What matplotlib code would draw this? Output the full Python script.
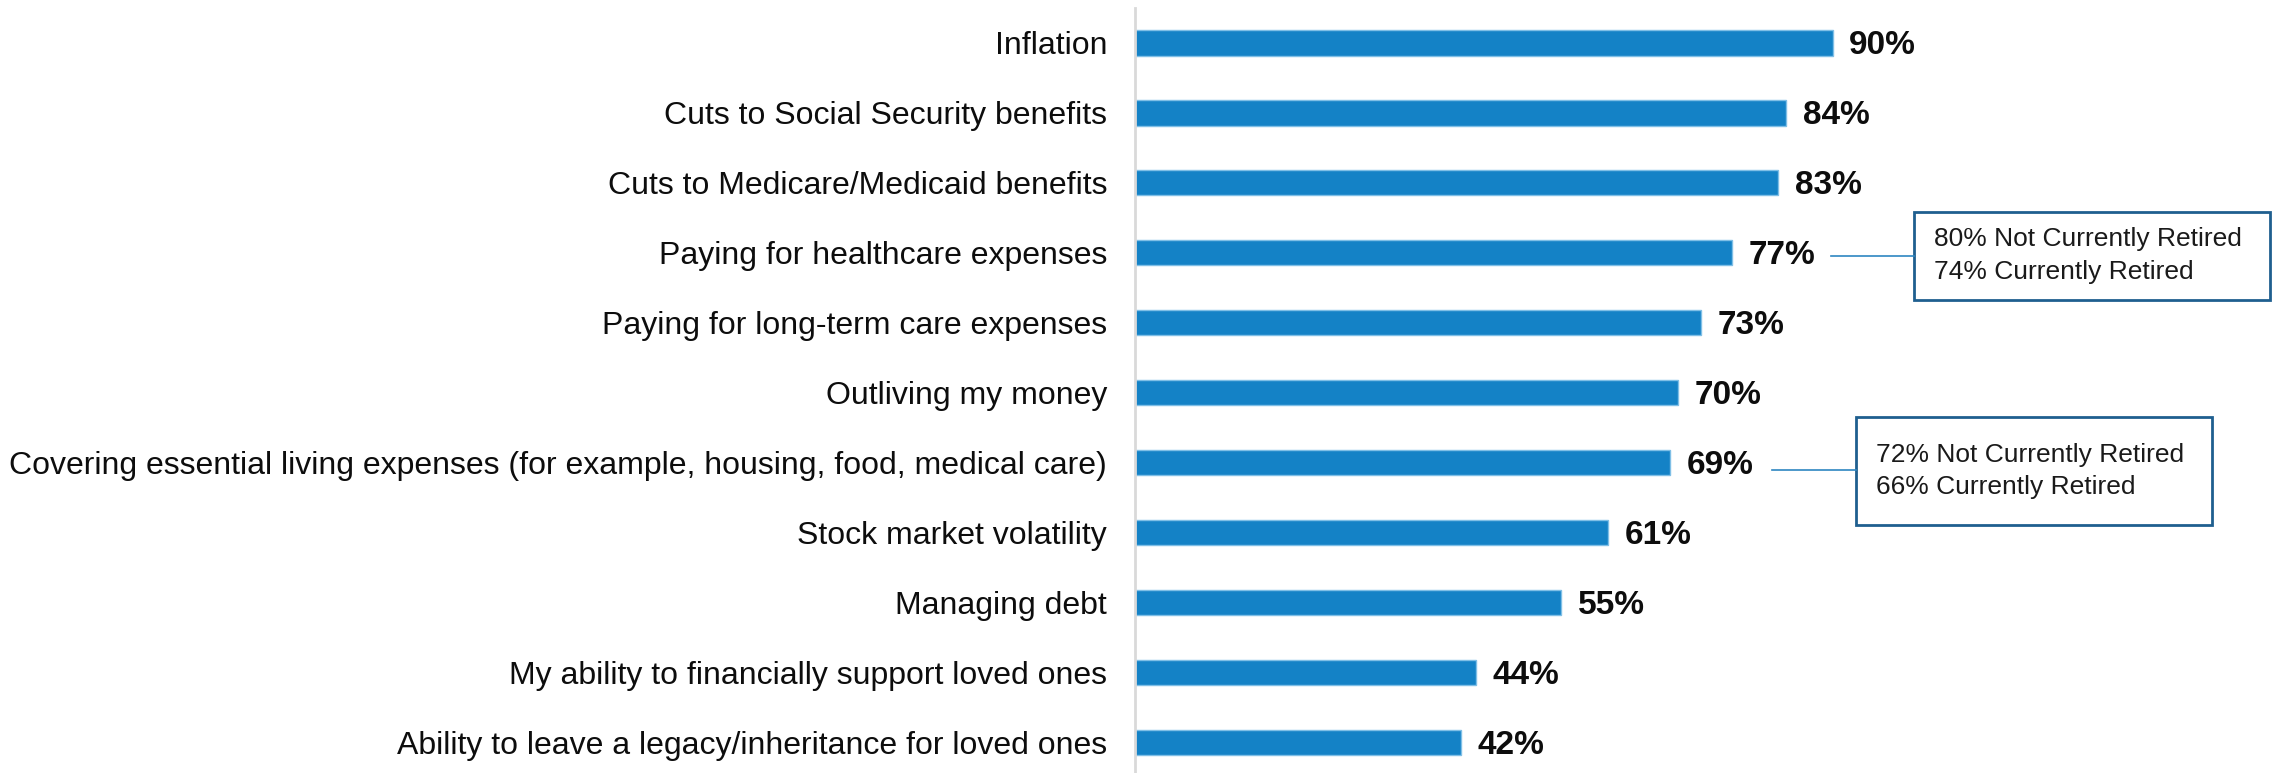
import matplotlib
matplotlib.use('Agg')
import matplotlib.pyplot as plt
from matplotlib.patches import Rectangle

plt.rcParams['font.family'] = ['Liberation Sans', 'DejaVu Sans']

categories = ['Inflation',
              'Cuts to Social Security benefits',
              'Cuts to Medicare/Medicaid benefits',
              'Paying for healthcare expenses',
              'Paying for long-term care expenses',
              'Outliving my money',
              'Covering essential living expenses (for example, housing, food, medical care)',
              'Stock market volatility',
              'Managing debt',
              'My ability to financially support loved ones',
              'Ability to leave a legacy/inheritance for loved ones']
values = [90, 84, 83, 77, 73, 70, 69, 61, 55, 44, 42]

# callouts: (bar index, text)
callout_rows = [3, 6]
callout_texts = ['80% Not Currently Retired\n74% Currently Retired',
                 '72% Not Currently Retired\n66% Currently Retired']

BAR = '#1482C6'
W, H = 2279, 773
fig = plt.figure(figsize=(W / 100, H / 100), dpi=100)
x0 = 1135 / W
ax = fig.add_axes([x0, 0, 1 - x0, (H - 8) / H])

ypos = list(range(len(categories)))
ax.barh(ypos, values, height=0.36, color=BAR, edgecolor='#7fbfe6', linewidth=1)
ax.set_xlim(0, (W - 1135) / 7.75)
ax.set_ylim(10.435, -0.5)

ax.set_yticks(ypos)
ax.set_yticklabels(categories, fontsize=23, color='#0d0d0d')
ax.tick_params(axis='y', length=0, pad=20)
ax.set_xticks([])
for s in ['top', 'right', 'bottom']:
    ax.spines[s].set_visible(False)
ax.spines['left'].set_color('#d9d9d9')
ax.spines['left'].set_linewidth(2)

for y, v in zip(ypos, values):
    ax.annotate(f'{v}%', (v, y), xytext=(12, -2), textcoords='offset points',
                va='center', ha='left', fontsize=24, fontweight='bold', color='#0d0d0d')

# callout boxes (x in %, y in row units)
boxes = [(100.5, 2.41, 46.0, 1.26, 89.8, 3.04),
         (93.0, 5.34, 46.0, 1.55, 82.2, 6.10)]
for (bx, by, bw, bh, lx, ly), txt in zip(boxes, callout_texts):
    ax.add_patch(Rectangle((bx, by), bw, bh, fill=False, edgecolor='#1f5f8f',
                           linewidth=2, clip_on=False))
    ax.plot([lx, bx], [ly, ly], color='#2e86c1', linewidth=1.2, clip_on=False)
    ax.text(bx + 2.6, by + bh / 2, txt, fontsize=19, va='center', ha='left',
            color='#1a1a1a', linespacing=1.45)

fig.savefig('out.png', dpi=100)
